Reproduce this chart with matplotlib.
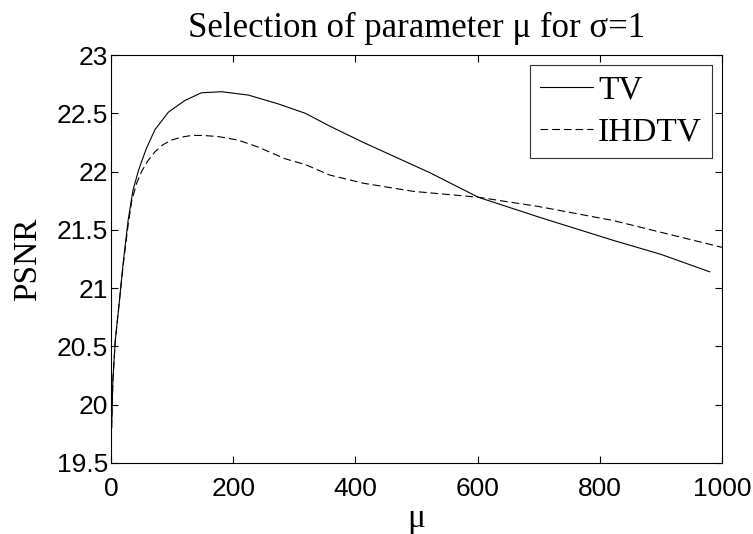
import numpy as np
import matplotlib
matplotlib.use("Agg")
import matplotlib.pyplot as plt
from matplotlib.ticker import FormatStrFormatter

# PSNR vs mu
mu_tv = [1, 3, 7, 13, 20, 28, 36, 45, 58, 72, 94, 121, 148, 181, 225, 274, 318, 358, 413,
         522, 601, 700, 822, 900, 980]
psnr_tv = [19.8, 20.2, 20.55, 20.85, 21.22, 21.58, 21.84, 22.01, 22.2, 22.36, 22.51, 22.61,
           22.676, 22.685, 22.656, 22.58, 22.50, 22.39, 22.25, 21.99, 21.78, 21.61, 21.41,
           21.29, 21.14]

mu_ihdtv = [1, 3, 7, 13, 20, 28, 34, 42, 50, 60, 72, 85, 99, 115, 132, 150, 176, 208, 241,
            285, 318, 358, 413, 495, 601, 700, 822, 1000]
psnr_ihdtv = [19.8, 20.2, 20.55, 20.85, 21.2, 21.54, 21.75, 21.9, 22.0, 22.09, 22.17, 22.23,
              22.27, 22.295, 22.31, 22.31, 22.30, 22.27, 22.21, 22.11, 22.06, 21.97, 21.90,
              21.83, 21.78, 21.70, 21.58, 21.35]

x_ticks = [0, 200, 400, 600, 800, 1000]
y_ticks = [19.5, 20, 20.5, 21, 21.5, 22, 22.5, 23]

serif = "Liberation Serif"
sans = "Liberation Sans"

fig = plt.figure(figsize=(7.53, 5.34), dpi=100)
ax = fig.add_axes([0.1474, 0.133, 0.8114, 0.764])

ax.plot(mu_tv, psnr_tv, color="black", lw=0.8, label="TV")
ax.plot(mu_ihdtv, psnr_ihdtv, color="black", lw=0.8, linestyle=(0, (7, 3.5)), label="IHDTV")

ax.set_xlim(0, 1000)
ax.set_ylim(19.5, 23)
ax.set_xticks(x_ticks)
ax.set_yticks(y_ticks)
ax.yaxis.set_major_formatter(FormatStrFormatter("%g"))
ax.tick_params(direction="in", length=5, width=0.8, top=True, right=True)
ax.tick_params(axis="x", pad=10)
ax.tick_params(axis="y", pad=2)
for lbl in ax.get_xticklabels() + ax.get_yticklabels():
    lbl.set_fontfamily(sans)
    lbl.set_fontsize(19)
for s in ax.spines.values():
    s.set_linewidth(0.8)

ax.set_title("Selection of parameter \u03bc for \u03c3=1", fontfamily=serif, fontsize=25, pad=13)
ax.set_xlabel("\u03bc", fontfamily=serif, fontsize=24, labelpad=2)
ax.set_ylabel("PSNR", fontfamily=serif, fontsize=24, labelpad=10)

leg = ax.legend(loc="upper right", prop={"family": serif, "size": 24}, frameon=True,
                fancybox=False, edgecolor="black", handlelength=1.6, handletextpad=0.15,
                borderpad=0.3, labelspacing=0.35, borderaxespad=0.3)
leg.get_frame().set_linewidth(0.8)

fig.savefig("out.png", dpi=100)
